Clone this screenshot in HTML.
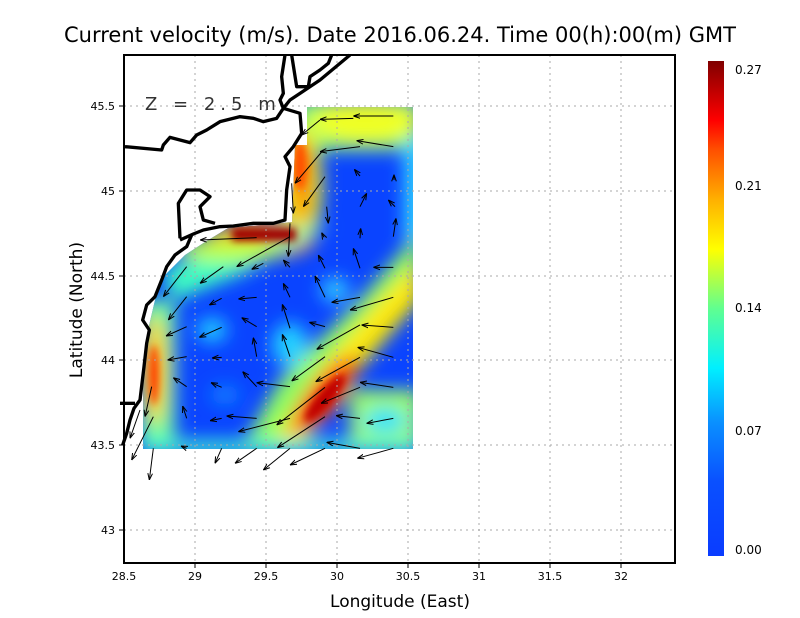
<!DOCTYPE html>
<html><head><meta charset="utf-8"><style>
html,body{margin:0;padding:0;background:#fff;}
svg{display:block;font-family:"DejaVu Sans","Liberation Sans",sans-serif;}
</style></head><body>
<svg width="800" height="618" viewBox="0 0 800 618" xmlns="http://www.w3.org/2000/svg">
<defs>
<filter id="bl" x="-20%" y="-20%" width="140%" height="140%"><feGaussianBlur stdDeviation="9"/></filter>
<filter id="bl2" x="-20%" y="-20%" width="140%" height="140%"><feGaussianBlur stdDeviation="4"/></filter>
<clipPath id="dc"><polygon points="307,107 413,107 413,449 143,449 143,385 148,330 155,300 160,280 185,255 205,242 228,228 292,222 295,145 307,145"/></clipPath>
<linearGradient id="cb" x1="0" y1="1" x2="0" y2="0">
<stop offset="0" stop-color="#0a3cff"/><stop offset="0.15" stop-color="#0a50ff"/><stop offset="0.27" stop-color="#0a90ff"/>
<stop offset="0.38" stop-color="#00f0ff"/><stop offset="0.5" stop-color="#60ff90"/><stop offset="0.62" stop-color="#ffff00"/>
<stop offset="0.72" stop-color="#ffb000"/><stop offset="0.82" stop-color="#ff5000"/><stop offset="0.88" stop-color="#ff0000"/><stop offset="1" stop-color="#800000"/>
</linearGradient>
<marker id="ah" viewBox="0 0 10 10" refX="10" refY="5" markerWidth="20" markerHeight="20" orient="auto" markerUnits="userSpaceOnUse"><path d="M0,1.5 L10,5 L0,8.5" fill="none" stroke="#000" stroke-width="1.5"/></marker>
</defs>
<text x="400" y="42" text-anchor="middle" font-size="21" fill="#000">Current velocity (m/s). Date 2016.06.24. Time 00(h):00(m) GMT</text>

<g clip-path="url(#dc)">
<rect x="130" y="100" width="290" height="360" fill="#0a44ff"/>
<g filter="url(#bl)">
<rect x="295" y="100" width="125" height="50" fill="#90ff70"/>
<ellipse cx="365" cy="122" rx="55" ry="20" fill="#f0ff20"/>
<ellipse cx="300" cy="185" rx="22" ry="60" fill="#e8ff20"/>
<ellipse cx="302" cy="180" rx="10" ry="45" fill="#ff7000"/>
<ellipse cx="260" cy="240" rx="55" ry="18" fill="#ffa000"/>
<polygon points="295,230 330,225 240,275 175,300 160,270" fill="#40ffc0"/>
<ellipse cx="230" cy="250" rx="55" ry="12" fill="#c0ff40"/>
<rect x="405" y="140" width="20" height="100" fill="#30e0ff"/>
<polygon points="420,230 420,300 340,390 300,450 240,450 280,380 360,300" fill="#90ff60"/>
<polygon points="420,260 420,300 350,380 300,440 275,440 320,370 380,300" fill="#ffe800"/>
<ellipse cx="325" cy="395" rx="48" ry="16" transform="rotate(-50 325 395)" fill="#ff5000"/>
<rect x="350" y="390" width="70" height="60" fill="#a0ff60"/>
<ellipse cx="385" cy="420" rx="22" ry="12" fill="#20e0ff"/>
<rect x="140" y="300" width="35" height="150" fill="#70ffa0"/>
<ellipse cx="155" cy="370" rx="12" ry="55" fill="#ffd000"/>
<rect x="140" y="440" width="280" height="15" fill="#40f0d0"/>
<ellipse cx="212" cy="330" rx="15" ry="12" fill="#20d0ff"/>
<ellipse cx="290" cy="345" rx="18" ry="22" fill="#20d0ff"/>
<ellipse cx="335" cy="290" rx="14" ry="12" fill="#30d0ff"/>
<ellipse cx="225" cy="395" rx="15" ry="10" fill="#1080ff"/>
</g>
<g filter="url(#bl2)">
<rect x="232" y="228" width="64" height="13" fill="#a00000"/>
<ellipse cx="325" cy="398" rx="30" ry="8" transform="rotate(-50 325 398)" fill="#c00000"/>
<ellipse cx="154" cy="375" rx="5" ry="30" fill="#ff4000"/>
<ellipse cx="300" cy="165" rx="7" ry="25" fill="#ff5000"/>
</g>
</g>

<g stroke="#aaa" stroke-width="1" stroke-dasharray="2,4">
<line x1="195" y1="55" x2="195" y2="563"/><line x1="266" y1="55" x2="266" y2="563"/><line x1="337" y1="55" x2="337" y2="563"/>
<line x1="408" y1="55" x2="408" y2="563"/><line x1="479" y1="55" x2="479" y2="563"/><line x1="550" y1="55" x2="550" y2="563"/><line x1="621" y1="55" x2="621" y2="563"/>
<line x1="124" y1="106" x2="675" y2="106"/><line x1="124" y1="191" x2="675" y2="191"/><line x1="124" y1="276" x2="675" y2="276"/>
<line x1="124" y1="360" x2="675" y2="360"/><line x1="124" y1="445" x2="675" y2="445"/><line x1="124" y1="530" x2="675" y2="530"/>
</g>

<g transform="translate(120,50) scale(0.33333)">
<g fill="none" stroke="#000" stroke-width="10" stroke-linejoin="round">
<path d="M15,290 L125,300 L130,285 L150,262 L180,270 L210,278 L230,255 L260,240 L300,215 L360,200 L400,205 L430,215 L470,205 L490,175 L480,150 L490,130 L485,80 L495,15"/>
<path d="M490,175 L510,150 L540,130 L600,90 L690,15"/>
<path d="M490,175 L540,190 L545,250 L520,290 L495,320 L510,350 L500,420 L495,510 L460,520 L400,520 L340,528 L300,530 L250,540 L220,552 L180,570"/>
<path d="M515,15 L530,110 L565,110 L570,80 L600,60 L625,40 L635,15"/>
<path d="M180,565 L175,460 L200,420 L240,420 L270,440 L240,470 L250,510 L285,520"/>
<path d="M215,555 L200,590 L165,615 L140,650 L125,690 L105,740 L80,765 L68,810 L88,840 L80,880 L72,950 L66,1000 L60,1050 L42,1075 L30,1110 L20,1150 L8,1185"/>
<path d="M0,1060 L45,1060"/>
</g>
<g stroke="#000" stroke-width="3" marker-end="url(#ah)" fill="none">
<line x1="820" y1="198" x2="700" y2="198"/><line x1="700" y1="205" x2="600" y2="208"/><line x1="600" y1="210" x2="545" y2="255"/>
<line x1="820" y1="290" x2="710" y2="272"/><line x1="720" y1="290" x2="600" y2="305"/>
<line x1="610" y1="300" x2="525" y2="400"/><line x1="615" y1="380" x2="550" y2="470"/><line x1="515" y1="400" x2="520" y2="490"/>
<line x1="720" y1="378" x2="703" y2="358"/><line x1="822" y1="390" x2="822" y2="374"/><line x1="720" y1="470" x2="740" y2="430"/>
<line x1="825" y1="470" x2="805" y2="450"/><line x1="620" y1="470" x2="625" y2="520"/><line x1="820" y1="560" x2="828" y2="505"/>
<line x1="720" y1="565" x2="722" y2="535"/><line x1="612" y1="562" x2="605" y2="548"/><line x1="510" y1="520" x2="505" y2="620"/>
<line x1="510" y1="560" x2="350" y2="650"/><line x1="410" y1="563" x2="240" y2="570"/><line x1="310" y1="650" x2="240" y2="700"/>
<line x1="430" y1="640" x2="395" y2="658"/><line x1="510" y1="652" x2="490" y2="630"/><line x1="615" y1="655" x2="595" y2="615"/>
<line x1="720" y1="655" x2="700" y2="595"/><line x1="820" y1="652" x2="760" y2="652"/><line x1="200" y1="650" x2="130" y2="740"/>
<line x1="200" y1="740" x2="145" y2="810"/><line x1="305" y1="745" x2="268" y2="765"/><line x1="410" y1="742" x2="355" y2="747"/>
<line x1="510" y1="742" x2="490" y2="700"/><line x1="615" y1="742" x2="585" y2="678"/><line x1="720" y1="742" x2="635" y2="757"/>
<line x1="820" y1="742" x2="690" y2="780"/><line x1="200" y1="830" x2="138" y2="858"/><line x1="305" y1="832" x2="238" y2="862"/>
<line x1="410" y1="830" x2="365" y2="803"/><line x1="510" y1="835" x2="487" y2="763"/><line x1="615" y1="830" x2="568" y2="817"/>
<line x1="820" y1="832" x2="725" y2="825"/><line x1="720" y1="825" x2="590" y2="898"/><line x1="410" y1="920" x2="400" y2="863"/>
<line x1="510" y1="920" x2="487" y2="853"/><line x1="200" y1="920" x2="143" y2="930"/><line x1="305" y1="922" x2="276" y2="924"/>
<line x1="615" y1="920" x2="515" y2="993"/><line x1="720" y1="922" x2="587" y2="995"/><line x1="820" y1="922" x2="713" y2="892"/>
<line x1="200" y1="1010" x2="160" y2="983"/><line x1="305" y1="1012" x2="273" y2="998"/><line x1="410" y1="1010" x2="368" y2="965"/>
<line x1="510" y1="1010" x2="410" y2="998"/><line x1="615" y1="1012" x2="470" y2="1125"/><line x1="720" y1="1012" x2="603" y2="1060"/>
<line x1="820" y1="1012" x2="720" y2="997"/><line x1="200" y1="1105" x2="188" y2="1068"/><line x1="305" y1="1105" x2="270" y2="1112"/>
<line x1="410" y1="1105" x2="320" y2="1098"/><line x1="510" y1="1105" x2="355" y2="1145"/><line x1="720" y1="1105" x2="648" y2="1097"/>
<line x1="820" y1="1105" x2="740" y2="1120"/><line x1="615" y1="1100" x2="472" y2="1193"/><line x1="720" y1="1195" x2="620" y2="1177"/>
<line x1="200" y1="1195" x2="183" y2="1188"/><line x1="100" y1="1195" x2="88" y2="1290"/><line x1="95" y1="1010" x2="75" y2="1100"/>
<line x1="100" y1="1100" x2="35" y2="1230"/><line x1="60" y1="1080" x2="30" y2="1165"/><line x1="305" y1="1195" x2="285" y2="1240"/>
<line x1="410" y1="1195" x2="345" y2="1240"/><line x1="510" y1="1195" x2="430" y2="1260"/><line x1="615" y1="1195" x2="510" y2="1245"/>
<line x1="820" y1="1195" x2="712" y2="1225"/>
</g>
</g>

<text x="145" y="110" font-size="18" fill="#333" letter-spacing="5">Z = 2.5 m</text>

<rect x="124" y="55" width="551" height="508" fill="none" stroke="#000" stroke-width="2"/>
<g stroke="#000" stroke-width="1">
<line x1="195" y1="563" x2="195" y2="568"/><line x1="266" y1="563" x2="266" y2="568"/><line x1="337" y1="563" x2="337" y2="568"/><line x1="408" y1="563" x2="408" y2="568"/>
<line x1="479" y1="563" x2="479" y2="568"/><line x1="550" y1="563" x2="550" y2="568"/><line x1="621" y1="563" x2="621" y2="568"/>
<line x1="119" y1="106" x2="124" y2="106"/><line x1="119" y1="191" x2="124" y2="191"/><line x1="119" y1="276" x2="124" y2="276"/>
<line x1="119" y1="360" x2="124" y2="360"/><line x1="119" y1="445" x2="124" y2="445"/><line x1="119" y1="530" x2="124" y2="530"/>
</g>
<g font-size="11" fill="#000" text-anchor="middle">
<text x="124" y="580">28.5</text><text x="195" y="580">29</text><text x="266" y="580">29.5</text><text x="337" y="580">30</text>
<text x="408" y="580">30.5</text><text x="479" y="580">31</text><text x="550" y="580">31.5</text><text x="621" y="580">32</text>
</g>
<g font-size="11" fill="#000" text-anchor="end">
<text x="115" y="110">45.5</text><text x="115" y="195">45</text><text x="115" y="280">44.5</text>
<text x="115" y="364">44</text><text x="115" y="449">43.5</text><text x="115" y="534">43</text>
</g>
<text x="400" y="607" text-anchor="middle" font-size="17">Longitude (East)</text>
<text transform="translate(82,310) rotate(-90)" text-anchor="middle" font-size="17">Latitude (North)</text>

<rect x="708" y="61" width="16" height="495" fill="url(#cb)"/>
<g font-size="12" fill="#000">
<text x="735" y="74">0.27</text><text x="735" y="190">0.21</text><text x="735" y="312">0.14</text>
<text x="735" y="435">0.07</text><text x="735" y="554">0.00</text>
</g>
</svg>
</body></html>
